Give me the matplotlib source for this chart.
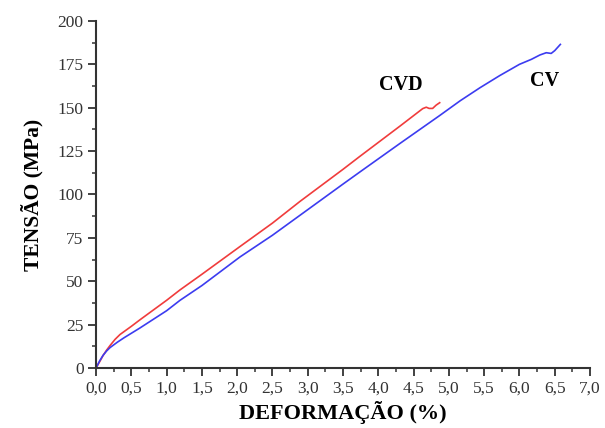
import matplotlib.pyplot as plt
from matplotlib.ticker import MultipleLocator, FuncFormatter
import numpy as np

plt.rcParams['font.family'] = ['Liberation Serif', 'DejaVu Serif']

# CVD curve (red)
cvd_x = [0, 0.05, 0.1, 0.15, 0.2, 0.27, 0.34, 0.5, 0.62, 1.0, 1.19, 1.5, 2.04, 2.5, 2.89,
         3.5, 3.74, 4.31, 4.55, 4.63, 4.68, 4.72, 4.77, 4.82, 4.87]
cvd_y = [0, 3.5, 7.2, 10.3, 13, 16.5, 19.3, 24, 27.7, 39, 45, 54, 70, 83.5, 96,
         114.5, 122, 139.5, 147, 149.5, 150.3, 149.6, 149.6, 151.5, 152.9]

# CV curve (blue)
cv_x = [0, 0.05, 0.1, 0.15, 0.2, 0.3, 0.4, 0.5, 0.62, 1.0, 1.19, 1.5, 2.04, 2.5, 2.89,
        3.5, 3.74, 4.31, 4.87, 5.16, 5.44, 5.72, 6.0, 6.17, 6.29, 6.38, 6.45,
        6.5, 6.58]
cv_y = [0, 4, 7.3, 9.8, 11.8, 14.8, 17.5, 20, 23, 33, 39, 47.5, 64, 76.5, 88,
        106, 113, 129.5, 145.5, 154, 161.5, 168.5, 175, 177.9, 180.4, 181.7, 181.3,
        182.9, 186.5]

fig = plt.figure(figsize=(6.05, 4.28), dpi=100)
ax = fig.add_axes([0.1587, 0.1402, 0.8165, 0.8108])

ax.plot(cvd_x, cvd_y, color='#f03c3c', lw=1.2)
ax.plot(cv_x, cv_y, color='#3c3cf0', lw=1.2)

ax.text(4.32, 163, 'CVD', fontsize=14.5, fontweight='bold', ha='center', va='center')
ax.text(6.36, 165.5, 'CV', fontsize=14.5, fontweight='bold', ha='center', va='center')

ax.set_xlim(0, 7)
ax.set_ylim(0, 200)
ax.xaxis.set_major_locator(MultipleLocator(0.5))
ax.xaxis.set_minor_locator(MultipleLocator(0.25))
ax.yaxis.set_major_locator(MultipleLocator(25))
ax.yaxis.set_minor_locator(MultipleLocator(12.5))
ax.xaxis.set_major_formatter(FuncFormatter(lambda v, p: f'{v:.1f}'.replace('.', ',')))
ax.yaxis.set_major_formatter(FuncFormatter(lambda v, p: f'{v:.0f}'))

for s in ['top', 'right']:
    ax.spines[s].set_visible(False)
for s in ['left', 'bottom']:
    ax.spines[s].set_linewidth(1.5)
    ax.spines[s].set_color('#333333')

ax.tick_params(which='major', direction='out', length=6, width=1.3, labelsize=12.5,
               colors='#333333', pad=3)
ax.tick_params(which='minor', direction='out', length=3, width=1.1, colors='#333333')

ax.set_xlabel('DEFORMAÇÃO (%)', fontsize=16, fontweight='bold', labelpad=3)
ax.set_ylabel('TENSÃO (MPa)', fontsize=15.5, fontweight='bold', labelpad=10)

fig.savefig('out.png', dpi=100)
